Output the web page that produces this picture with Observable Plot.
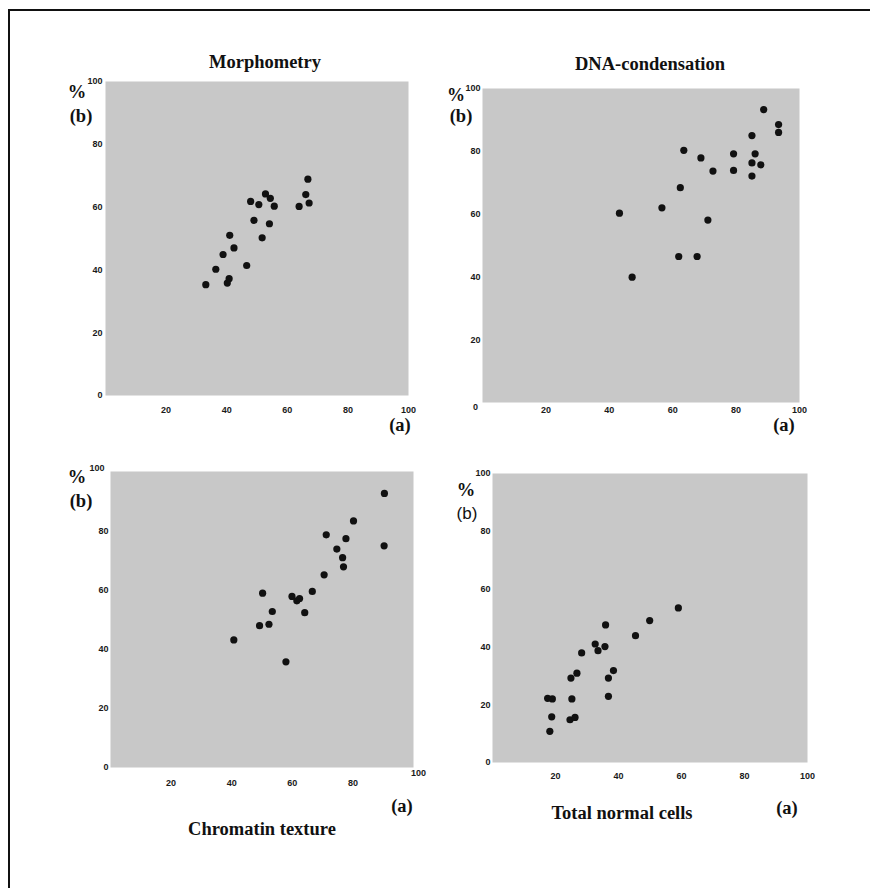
<!DOCTYPE html>
<html>
<head>
<meta charset="utf-8">
<script src="https://cdn.jsdelivr.net/npm/d3@7"></script>
<script src="https://cdn.jsdelivr.net/npm/@observablehq/plot@0.6"></script>
<style>
  body { margin: 0; background: #fff; }
  #wrap { position: relative; width: 878px; height: 888px; overflow: hidden; background: #fff;
          font-family: "Liberation Serif", "Times New Roman", serif; }
  #border { position: absolute; left: 8px; top: 9px; width: 860px; height: 890px;
            border-top: 2px solid #111; border-left: 2px solid #111; }
  .t { position: absolute; transform: translate(-50%, -50%); line-height: 1; white-space: nowrap;
       font-weight: bold; color: #111; font-size: 18.5px; }
  .sans { font-family: "Liberation Sans", Arial, sans-serif; font-weight: normal; font-size: 17px; }
  .panel { position: absolute; }
  .panel svg text { font-weight: bold; }
</style>
</head>
<body>
<div id="wrap"><div id="border"></div></div>
<script>
// ---------- data (% scale 0-100) ----------
const morphA = [33.1, 36.4, 38.8, 40.2, 40.8, 41.0, 42.4, 46.6, 47.9, 49.0, 50.6, 51.7, 52.8, 54.1, 54.4, 55.7, 63.9, 66.1, 66.8, 67.2];
const morphB = [35.3, 40.2, 44.9, 35.8, 37.2, 51.0, 47.0, 41.4, 61.8, 55.8, 60.8, 50.2, 64.2, 54.7, 62.8, 60.3, 60.2, 64.0, 68.9, 61.3];

const dnaA = [43.2, 47.2, 56.6, 61.9, 62.4, 63.5, 67.7, 68.9, 71.1, 72.7, 79.2, 79.2, 85.0, 85.0, 85.0, 86.0, 87.8, 88.7, 93.4, 93.4];
const dnaB = [60.3, 39.9, 62.0, 46.5, 68.4, 80.3, 46.5, 77.9, 58.1, 73.7, 79.2, 73.9, 85.0, 76.3, 72.1, 79.2, 75.7, 93.3, 88.5, 86.0];

const chromA = [40.7, 49.2, 50.2, 52.3, 53.4, 57.9, 59.9, 61.5, 62.4, 64.1, 66.6, 70.5, 71.2, 74.7, 76.6, 76.9, 77.7, 80.2, 90.3, 90.4];
const chromB = [43.1, 47.9, 58.9, 48.4, 52.7, 35.7, 57.8, 56.3, 57.1, 52.3, 59.5, 65.1, 78.6, 73.8, 70.9, 67.8, 77.3, 83.3, 74.9, 92.6];

const totalA = [17.5, 19.0, 18.8, 18.2, 24.9, 25.2, 24.6, 26.2, 26.8, 28.3, 32.6, 33.5, 35.7, 35.9, 36.8, 36.8, 38.4, 45.4, 49.9, 59.0];
const totalB = [22.2, 22.0, 15.8, 10.8, 29.2, 22.0, 14.8, 15.6, 30.9, 37.9, 41.0, 38.7, 40.1, 47.6, 29.2, 22.9, 31.8, 43.9, 49.1, 53.5];

const panelTitles = ["Morphometry", "DNA-condensation", "Chromatin texture", "Total normal cells"];
const axisA = "(a)", axisB = "(b)", pct = "%";
const tickVals = [0, 20, 40, 60, 80, 100];

const wrap = document.getElementById("wrap");
const M = {l: 40, r: 24, t: 20, b: 34};

function addText(txt, cx, cy, cls, extra) {
  const d = document.createElement("div");
  d.className = "t" + (cls ? " " + cls : "");
  d.textContent = txt;
  d.style.left = cx + "px";
  d.style.top = cy + "px";
  if (extra) Object.assign(d.style, extra);
  wrap.appendChild(d);
}

function panel(a, b, rect, opt) {
  const [x0, x1, y0, y1] = rect;
  const data = a.map((v, i) => ({a: v, b: b[i]}));
  const marks = [
    Plot.frame({fill: "#c8c8c8", stroke: null}),
    Plot.axisY(opt.yTicks, {tickSize: 0, tickPadding: opt.yPad, label: null}),
    Plot.axisX(opt.xTicks, {tickSize: 0, tickPadding: opt.xPad, label: null}),
    ...(opt.extra || []),
    Plot.dot(data, {x: "a", y: "b", r: 3.6, fill: "#111", stroke: null})
  ];
  const svg = Plot.plot({
    width: (x1 - x0) + M.l + M.r,
    height: (y1 - y0) + M.t + M.b,
    marginLeft: M.l, marginRight: M.r, marginTop: M.t, marginBottom: M.b,
    x: {domain: [0, 100]},
    y: {domain: [0, 100]},
    style: {fontFamily: "'Liberation Sans', Arial, sans-serif", fontSize: "9px", color: "#1a1a1a",
            background: "transparent", overflow: "visible"},
    marks
  });
  const div = document.createElement("div");
  div.className = "panel";
  div.style.left = (x0 - M.l) + "px";
  div.style.top = (y0 - M.t) + "px";
  div.appendChild(svg);
  wrap.appendChild(div);
}

// Panel 1 : Morphometry
panel(morphA, morphB, [105, 408, 81, 395], {
  yTicks: tickVals, xTicks: tickVals.slice(1), yPad: 3, xPad: 11
});
// Panel 2 : DNA-condensation
panel(dnaA, dnaB, [482, 799, 88, 402], {
  yTicks: tickVals.slice(1), xTicks: tickVals.slice(1), yPad: 2, xPad: 4,
  extra: [Plot.text([tickVals[0]], {x: d => d, frameAnchor: "bottom", dx: -7, dy: 7, text: d => String(d)})]
});
// Panel 3 : Chromatin texture
panel(chromA, chromB, [110, 413, 471, 767], {
  yTicks: tickVals.slice(0, 5), xTicks: tickVals.slice(1, 5), yPad: 2, xPad: 12,
  extra: [
    Plot.text([tickVals[5]], {y: d => d, frameAnchor: "left", textAnchor: "end", dx: -6, dy: -3, text: d => String(d)}),
    Plot.text([tickVals[5]], {x: d => d, frameAnchor: "bottom", dx: 5, dy: 8, text: d => String(d)})
  ]
});
// Panel 4 : Total normal cells
panel(totalA, totalB, [492, 807, 473, 762], {
  yTicks: tickVals, xTicks: tickVals.slice(1), yPad: 2, xPad: 10
});

// titles and axis labels
addText(panelTitles[0], 265, 62);
addText(panelTitles[1], 650, 64);
addText(panelTitles[2], 262, 829);
addText(panelTitles[3], 622, 813);

addText(pct, 77, 92);   addText(axisB, 81, 116);
addText(pct, 456, 95, null, {fontSize: "18px"});  addText(axisB, 461, 116);
addText(pct, 77, 477);  addText(axisB, 81, 501);
addText(pct, 466, 490); addText(axisB, 467, 513, "sans");

addText(axisA, 400, 425);
addText(axisA, 784, 425);
addText(axisA, 402, 806);
addText(axisA, 787, 808);
</script>
</body>
</html>
